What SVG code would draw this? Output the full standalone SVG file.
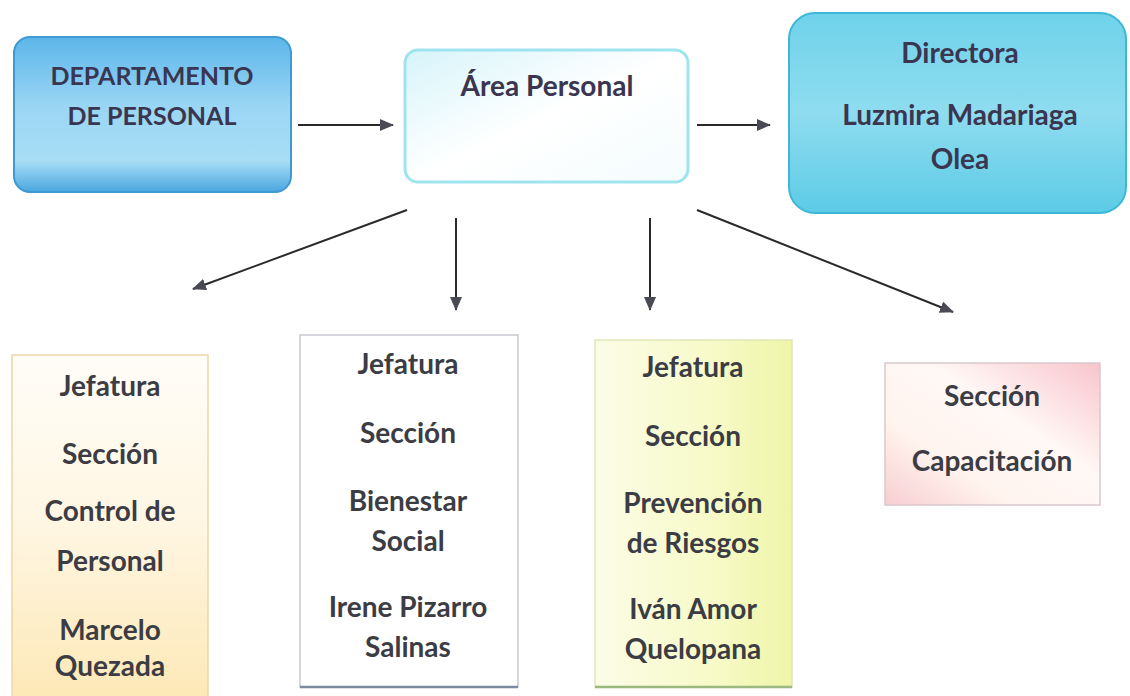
<svg xmlns="http://www.w3.org/2000/svg" width="1130" height="696" viewBox="0 0 1130 696">
<style>
text{font-family:Lato,"Liberation Sans",sans-serif;font-weight:bold;text-anchor:middle;}
.top{font-size:25px;fill:#3a3550;}
.big{font-size:28px;fill:#3a3550;}
.low{font-size:28px;fill:#3c3c44;}
.conn line{stroke:#2a2a2a;stroke-width:2;}
</style>
<defs>
<marker id="ah" markerWidth="14" markerHeight="12" refX="13" refY="6" orient="auto" markerUnits="userSpaceOnUse">
<path d="M0,0 L14,6 L0,12 Z" fill="#4a4a55"/>
</marker>
<linearGradient id="gDept" x1="0" y1="0" x2="0" y2="1">
<stop offset="0" stop-color="#5cb6ea"/>
<stop offset="0.45" stop-color="#9ad6f4"/>
<stop offset="0.8" stop-color="#a8ddf5"/>
<stop offset="1" stop-color="#4aa6e0"/>
</linearGradient>
<linearGradient id="gArea" x1="0" y1="0" x2="1" y2="1">
<stop offset="0" stop-color="#d6f4fa"/>
<stop offset="0.5" stop-color="#ffffff"/>
<stop offset="1" stop-color="#f4fcfe"/>
</linearGradient>
<linearGradient id="gDir" x1="0" y1="0" x2="0" y2="1">
<stop offset="0" stop-color="#6fd2ea"/>
<stop offset="0.5" stop-color="#8fdcef"/>
<stop offset="1" stop-color="#5ccbe6"/>
</linearGradient>
<linearGradient id="gB1" x1="0" y1="0" x2="0" y2="1">
<stop offset="0" stop-color="#fffdf8"/>
<stop offset="0.5" stop-color="#fff6e2"/>
<stop offset="1" stop-color="#fde8b6"/>
</linearGradient>
<linearGradient id="gB3" x1="0" y1="0" x2="1" y2="0">
<stop offset="0" stop-color="#fbfce6"/>
<stop offset="0.6" stop-color="#f7fac8"/>
<stop offset="1" stop-color="#eef5a8"/>
</linearGradient>
<linearGradient id="gB4" x1="1" y1="0" x2="0" y2="1">
<stop offset="0" stop-color="#f8c4cc"/>
<stop offset="0.4" stop-color="#fff8f6"/>
<stop offset="0.7" stop-color="#fff4ee"/>
<stop offset="1" stop-color="#f7cdd2"/>
</linearGradient>
</defs>
<rect width="1130" height="696" fill="#ffffff"/>

<g id="dept">
<rect x="14" y="37" width="277" height="155" rx="16" fill="url(#gDept)" stroke="#3f9ad2" stroke-width="2"/>
<text class="top" x="152" y="85">DEPARTAMENTO</text>
<text class="top" x="152" y="125">DE  PERSONAL</text>
</g>

<g id="area">
<rect x="405" y="50" width="283" height="132" rx="13" fill="url(#gArea)" stroke="#9fe3ef" stroke-width="3"/>
<text class="big" x="547" y="96">Área Personal</text>
</g>

<g id="directora">
<rect x="789" y="13" width="337" height="200" rx="26" fill="url(#gDir)" stroke="#3cb7d6" stroke-width="2"/>
<text class="big" x="960" y="63">Directora</text>
<text class="big" x="960" y="125">Luzmira Madariaga</text>
<text class="big" x="960" y="169">Olea</text>
</g>

<g class="conn" id="connectors">
<line x1="298" y1="125" x2="393" y2="125" marker-end="url(#ah)"/>
<line x1="697" y1="125" x2="770" y2="125" marker-end="url(#ah)"/>
<line x1="407" y1="210" x2="193" y2="289" marker-end="url(#ah)"/>
<line x1="456" y1="218" x2="456" y2="310" marker-end="url(#ah)"/>
<line x1="650" y1="218" x2="650" y2="310" marker-end="url(#ah)"/>
<line x1="697" y1="210" x2="953" y2="312" marker-end="url(#ah)"/>
</g>

<g id="box-control">
<rect x="12" y="355" width="196" height="345" fill="url(#gB1)" stroke="#ecd6a6" stroke-width="1.5"/>
<text class="low" x="110" y="396">Jefatura</text>
<text class="low" x="110" y="464">Sección</text>
<text class="low" x="110" y="521">Control de</text>
<text class="low" x="110" y="571">Personal</text>
<text class="low" x="110" y="640">Marcelo</text>
<text class="low" x="110" y="676">Quezada</text>
</g>

<g id="box-bienestar">
<rect x="300" y="335" width="218" height="352" fill="#ffffff" stroke="#c9c9d2" stroke-width="1.5"/>
<line x1="300" y1="687" x2="518" y2="687" stroke="#7e8aa0" stroke-width="2.5"/>
<text class="low" x="408" y="374">Jefatura</text>
<text class="low" x="408" y="443">Sección</text>
<text class="low" x="408" y="511">Bienestar</text>
<text class="low" x="408" y="551">Social</text>
<text class="low" x="408" y="617">Irene Pizarro</text>
<text class="low" x="408" y="657">Salinas</text>
</g>

<g id="box-prevencion">
<rect x="595" y="340" width="197" height="347" fill="url(#gB3)" stroke="#dfe6b8" stroke-width="1.5"/>
<line x1="595" y1="687" x2="792" y2="687" stroke="#9cb87e" stroke-width="2.5"/>
<text class="low" x="693" y="377">Jefatura</text>
<text class="low" x="693" y="446">Sección</text>
<text class="low" x="693" y="513">Prevención</text>
<text class="low" x="693" y="553">de Riesgos</text>
<text class="low" x="693" y="619">Iván Amor</text>
<text class="low" x="693" y="659">Quelopana</text>
</g>

<g id="box-capacitacion">
<rect x="885" y="363" width="215" height="142" fill="url(#gB4)" stroke="#d9c9cc" stroke-width="1.5"/>
<text class="low" x="992" y="406">Sección</text>
<text class="low" x="992" y="471">Capacitación</text>
</g>
</svg>
